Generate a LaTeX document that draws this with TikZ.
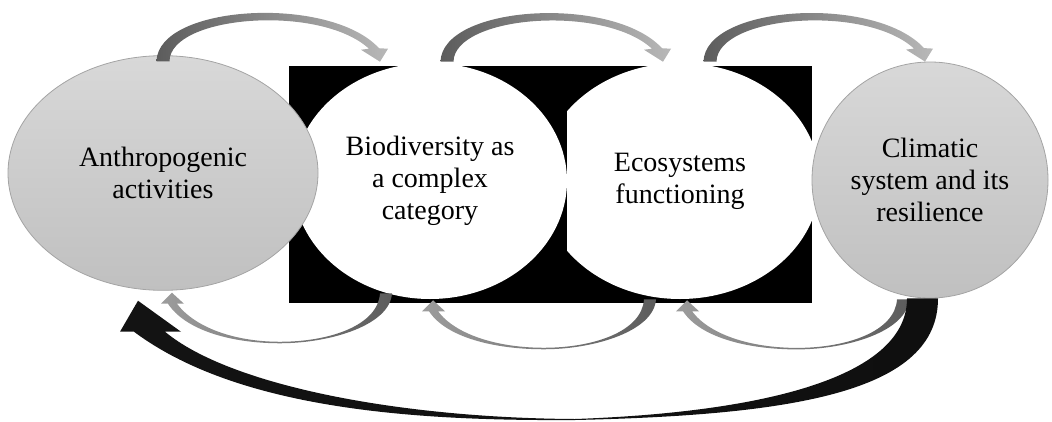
\documentclass[tikz,border=0pt]{standalone}
\usepackage{fontspec}
\setmainfont{Liberation Serif}
\usepackage{tikz}
\usetikzlibrary{shapes.geometric,calc}
\definecolor{ovaltop}{HTML}{D8D8D8}
\definecolor{ovalbottom}{HTML}{C0C0C0}
\definecolor{ovalline}{HTML}{A4A4A4}
\definecolor{loopdark}{HTML}{5C5C5C}
\definecolor{looplight}{HTML}{B8B8B8}
\definecolor{looppale}{HTML}{D4D4D4}
\definecolor{feedback}{HTML}{131313}
\definecolor{feedbackmid}{HTML}{484848}

% forward link over two stages: #1 tail, #2 tip
\newcommand{\overArrow}[2]{%
  \shade[left color=loopdark, right color=looplight]
    ($(#1)+(-6.5,0)$) .. controls +(1.5,-57) and +(-49,-53.5) .. ($(#2)+(-1,-13.5)$)
    -- ($(#2)+(8,-13)$) -- (#2) -- ($(#2)+(-19,-12)$) -- ($(#2)+(-11,-13)$)
    .. controls +(-49,-45) and +(0.5,-46) .. ($(#1)+(6.5,0)$) -- cycle;}
% return link under two stages: #1 tail, #2 tip
\newcommand{\underArrow}[2]{%
  \shade[left color=looplight!85!black, middle color=looppale, right color=loopdark]
    ($(#1)+(6,0)$) .. controls +(-2,32) and +(50,0) .. ($(#1)+(-106,50)$)
    .. controls +(-50,0) and +(17,26) .. ($(#2)+(-4,11)$)
    -- ($(#2)+(-11,11)$) -- (#2) -- ($(#2)+(12,11)$) -- ($(#2)+(5,11)$)
    .. controls +(18,24) and +(-45,0) .. ($(#1)+(-106,48.5)$)
    .. controls +(50,0) and +(-2,32) .. ($(#1)+(-6,0)$) -- cycle;}

\begin{document}
\begin{tikzpicture}[x=0.75pt, y=-0.75pt,
    stagetext/.style={font=\fontsize{21}{24}\selectfont, align=center, inner sep=0pt},
    grayoval/.style={stagetext, ellipse, draw=ovalline, line width=0.6pt,
                     top color=ovaltop, bottom color=ovalbottom},
    whiteoval/.style={stagetext, ellipse, fill=white},
  ]
  \useasboundingbox (0,0) rectangle (1052,421);

  % black backing of the two middle stages
  \fill[black] (289,66) rectangle (567,303);
  \fill[black] (567,66) rectangle (812,303);
  \begin{scope}
    \clip (289,66) rectangle (567,303);
    \node[whiteoval, minimum width=205.5pt, minimum height=177pt] (bio) at (430,181)
      {Biodiversity as\\a complex\\category};
  \end{scope}
  \begin{scope}
    \clip (567,66) rectangle (812,303);
    \node[whiteoval, minimum width=210pt, minimum height=177pt] (eco) at (680,181)
      {Ecosystems\\functioning};
  \end{scope}

  \node[grayoval, minimum width=232.5pt, minimum height=176pt] (anthro) at (163,173)
    {Anthropogenic\\activities};
  \node[grayoval, minimum width=177pt, minimum height=177pt] (clim) at (930,180)
    {Climatic\\system and its\\resilience};

  % ends of the links
  \coordinate (up1) at ($(anthro.north)+(0,6)$);
  \coordinate (upend1) at ($(bio.north)+(-50,-1)$);
  \coordinate (up2) at ($(bio.north)+(17,-1)$);
  \coordinate (upend2) at ($(eco.north)+(-17,-1)$);
  \coordinate (up3) at ($(eco.north)+(30,-1)$);
  \coordinate (upend3) at ($(clim.north)+(-5,0)$);
  \coordinate (down1) at ($(bio.south)+(-44,-6)$);
  \coordinate (downend1) at ($(anthro.south)+(9,2)$);
  \coordinate (down2) at ($(eco.south)+(-30,0)$);
  \coordinate (downend2) at ($(bio.south)+(3,1)$);
  \coordinate (down3) at ($(clim.south)+(-27,1)$);
  \coordinate (downend3) at ($(eco.south)+(7,1)$);

  \overArrow{up1}{upend1}
  \overArrow{up2}{upend2}
  \overArrow{up3}{upend3}
  \underArrow{down1}{downend1}
  \underArrow{down2}{downend2}
  \underArrow{down3}{downend3}

  % long feedback from climate back to human activity
  \coordinate (bend) at (575,420);
  \coordinate (fbtip) at ($(anthro.south)+(-25,10)$);
  \shade[left color=feedback, middle color=feedbackmid, right color=feedback!80!black]
    ($(clim.south)+(8,0)$) .. controls +(0,92) and +(225,-5) .. (bend)
    .. controls +(-155,1) and +(106,79) .. ($(anthro.south)+(-29,41)$)
    -- ($(anthro.south)+(-43,41)$) -- (fbtip) -- ($(anthro.south)+(18,41)$)
    -- ($(anthro.south)+(2,41)$)
    .. controls +(65,54) and +(-175,-1) .. ($(bend)+(0,-1)$)
    .. controls +(195,-7) and +(0,77) .. ($(clim.south)+(-23,0)$) -- cycle;
\end{tikzpicture}
\end{document}
